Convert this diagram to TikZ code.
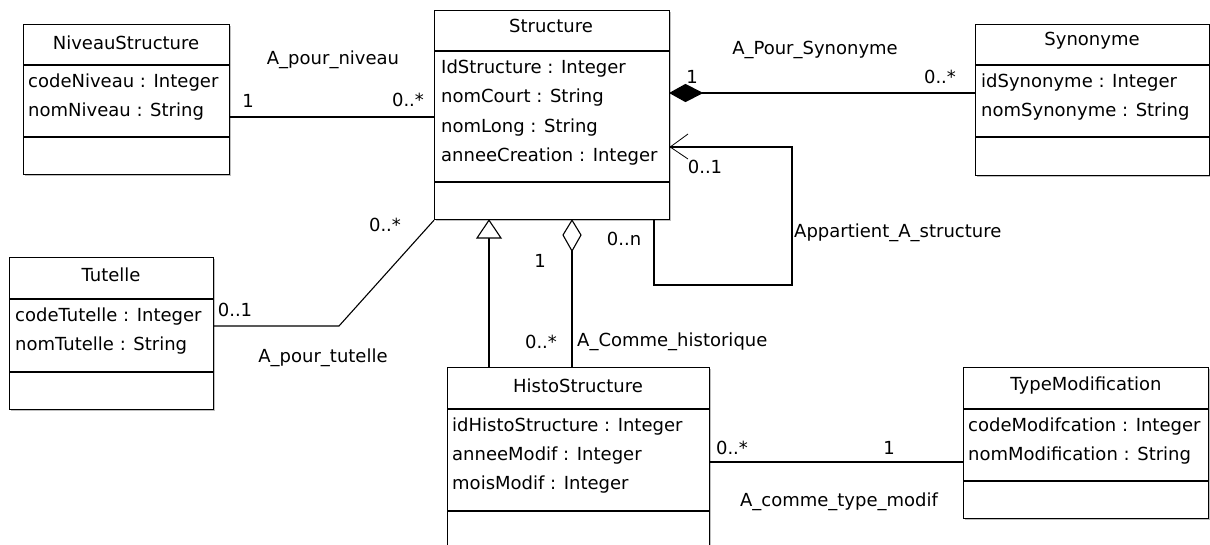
\documentclass[tikz,border=0pt]{standalone}
\usepackage{fontspec}
\setmainfont{DejaVu Sans}
\usetikzlibrary{calc}
\begin{document}
\begin{tikzpicture}[x=1pt,y=-1pt,
  box/.style={draw,line width=1.2pt,fill=white,inner sep=0pt,anchor=north west},
  shadowbox/.style={fill=black!25,draw=none},
  sep/.style={line width=1.2pt},
  cname/.style={inner sep=0pt,font=\fontsize{18}{20}\selectfont},
  attr/.style={inner sep=0pt,anchor=west,font=\fontsize{18}{20}\selectfont},
  lbl/.style={inner sep=0pt,font=\fontsize{18}{20}\selectfont},
  assoc/.style={line width=1.1pt},
  thinline/.style={line width=0.8pt}]
\useasboundingbox (0,0) rectangle (1210,544);
\fill[white] (0,0) rectangle (1210,544);

% ---------- NiveauStructure
\fill[shadowbox] (25,26) rectangle (231,176);
\node[box,minimum width=206pt,minimum height=150pt] (niv) at (23,24) {};
\draw[sep] (niv.west |- 0,65) -- (niv.east |- 0,65);
\draw[sep] (niv.west |- 0,137) -- (niv.east |- 0,137);
\node[cname] (nivT) at (126,43) {NiveauStructure};
\node[attr] (niv1) at (28,83) {codeNiveau : Integer};
\node[attr] (niv2) at (28,112) {nomNiveau : String};

% ---------- Structure
\fill[shadowbox] (436,12) rectangle (671,221);
\node[box,minimum width=235pt,minimum height=209pt] (str) at (434,10) {};
\draw[sep] (str.west |- 0,51) -- (str.east |- 0,51);
\draw[sep] (str.west |- 0,182) -- (str.east |- 0,182);
\node[cname] (strT) at (551,26) {Structure};
\node[attr] (str1) at (441,69) {IdStructure : Integer};
\node[attr] (str2) at (441,98) {nomCourt : String};
\node[attr] (str3) at (441,128) {nomLong : String};
\node[attr] (str4) at (441,157) {anneeCreation : Integer};

% ---------- Synonyme
\fill[shadowbox] (977,26) rectangle (1211,177);
\node[box,minimum width=234pt,minimum height=151pt] (syn) at (975,24) {};
\draw[sep] (syn.west |- 0,65) -- (syn.east |- 0,65);
\draw[sep] (syn.west |- 0,137) -- (syn.east |- 0,137);
\node[cname] (synT) at (1092,41) {Synonyme};
\node[attr] (syn1) at (981,83) {idSynonyme : Integer};
\node[attr] (syn2) at (981,112) {nomSynonyme : String};

% ---------- Tutelle
\fill[shadowbox] (11,259) rectangle (215,411);
\node[box,minimum width=204pt,minimum height=152pt] (tut) at (9,257) {};
\draw[sep] (tut.west |- 0,299) -- (tut.east |- 0,299);
\draw[sep] (tut.west |- 0,372) -- (tut.east |- 0,372);
\node[cname] (tutT) at (111,275) {Tutelle};
\node[attr] (tut1) at (15,317) {codeTutelle : Integer};
\node[attr] (tut2) at (15,346) {nomTutelle : String};

% ---------- HistoStructure
\fill[shadowbox] (449,369) rectangle (711,560);
\node[box,minimum width=262pt,minimum height=190pt] (his) at (447,367) {};
\draw[sep] (his.west |- 0,409) -- (his.east |- 0,409);
\draw[sep] (his.west |- 0,511) -- (his.east |- 0,511);
\node[cname] (hisT) at (578,386) {HistoStructure};
\node[attr] (his1) at (452,427) {idHistoStructure : Integer};
\node[attr] (his2) at (452,456) {anneeModif : Integer};
\node[attr] (his3) at (452,485) {moisModif : Integer};

% ---------- TypeModification
\fill[shadowbox] (965,369) rectangle (1210,520);
\node[box,minimum width=245pt,minimum height=151pt] (typ) at (963,367) {};
\draw[sep] (typ.west |- 0,409) -- (typ.east |- 0,409);
\draw[sep] (typ.west |- 0,481) -- (typ.east |- 0,481);
\node[cname] (typT) at (1086,386) {TypeModification};
\node[attr] (typ1) at (968,427) {codeModifcation : Integer};
\node[attr] (typ2) at (968,456) {nomModification : String};

% ---------- A_pour_niveau
\draw[assoc] (niv.east |- 0,117) -- (str.west |- 0,117);
\node[lbl] (lPN) at (333,60) {A\_pour\_niveau};
\node[lbl] (mPN1) at (248,101) {1};
\node[lbl] (mPN2) at (408,100) {0..*};

% ---------- A_Pour_Synonyme (composition)
\coordinate (cmpL) at (str.east |- 0,93);
\coordinate (cmpR) at (702,93);
\draw[assoc] (cmpR) -- (syn.west |- 0,93);
\draw[assoc,fill=black] (cmpL) -- (685.5,84.5) -- (cmpR) -- (685.5,101.5) -- cycle;
\node[lbl] (lPS) at (815,50) {A\_Pour\_Synonyme};
\node[lbl] (mPS1) at (692,77) {1};
\node[lbl] (mPS2) at (940,77) {0..*};

% ---------- Appartient_A_structure (self loop)
\coordinate (lp1) at (654,285);
\coordinate (lp2) at (792,285);
\coordinate (lp3) at (792,147);
\coordinate (lpE) at (str.east |- 0,147);
\draw[assoc] (str.south -| 654,0) -- (lp1) -- (lp2) -- (lp3) -- (lpE);
\draw[thinline] (688,134) -- (lpE) -- (688,159);
\node[lbl,anchor=west] (lAS) at (794,233) {Appartient\_A\_structure};
\node[lbl] (mAS1) at (705,167) {0..1};
\node[lbl] (mAS2) at (624,239) {0..n};

% ---------- A_pour_tutelle
\coordinate (tb) at (339,326);
\draw[assoc] (tut.east |- 0,326) -- (tb) -- (str.south west);
\node[lbl] (lPT) at (323,358) {A\_pour\_tutelle};
\node[lbl] (mPT1) at (235,310) {0..1};
\node[lbl] (mPT2) at (385,225) {0..*};

% ---------- Generalization
\coordinate (gTip) at (str.south -| 489,0);
\coordinate (gBase) at (489,238);
\draw[assoc] (his.north -| 489,0) -- (gBase);
\draw[assoc,fill=white] (gTip) -- (477,238) -- (501,238) -- cycle;

% ---------- A_Comme_historique (aggregation)
\coordinate (aTop) at (str.south -| 572,0);
\coordinate (aBot) at (572,251);
\draw[assoc] (his.north -| 572,0) -- (aBot);
\draw[assoc,fill=white] (aTop) -- (581,235) -- (aBot) -- (563,235) -- cycle;
\node[lbl] (mCH1) at (540,261) {1};
\node[lbl] (mCH2) at (541,342) {0..*};
\node[lbl,anchor=west] (lCH) at (577,342) {A\_Comme\_historique};

% ---------- A_comme_type_modif
\draw[assoc] (his.east |- 0,462) -- (typ.west |- 0,462);
\node[lbl] (lTM) at (839,502) {A\_comme\_type\_modif};
\node[lbl] (mTM1) at (732,448) {0..*};
\node[lbl] (mTM2) at (889,448) {1};
\end{tikzpicture}
\end{document}
